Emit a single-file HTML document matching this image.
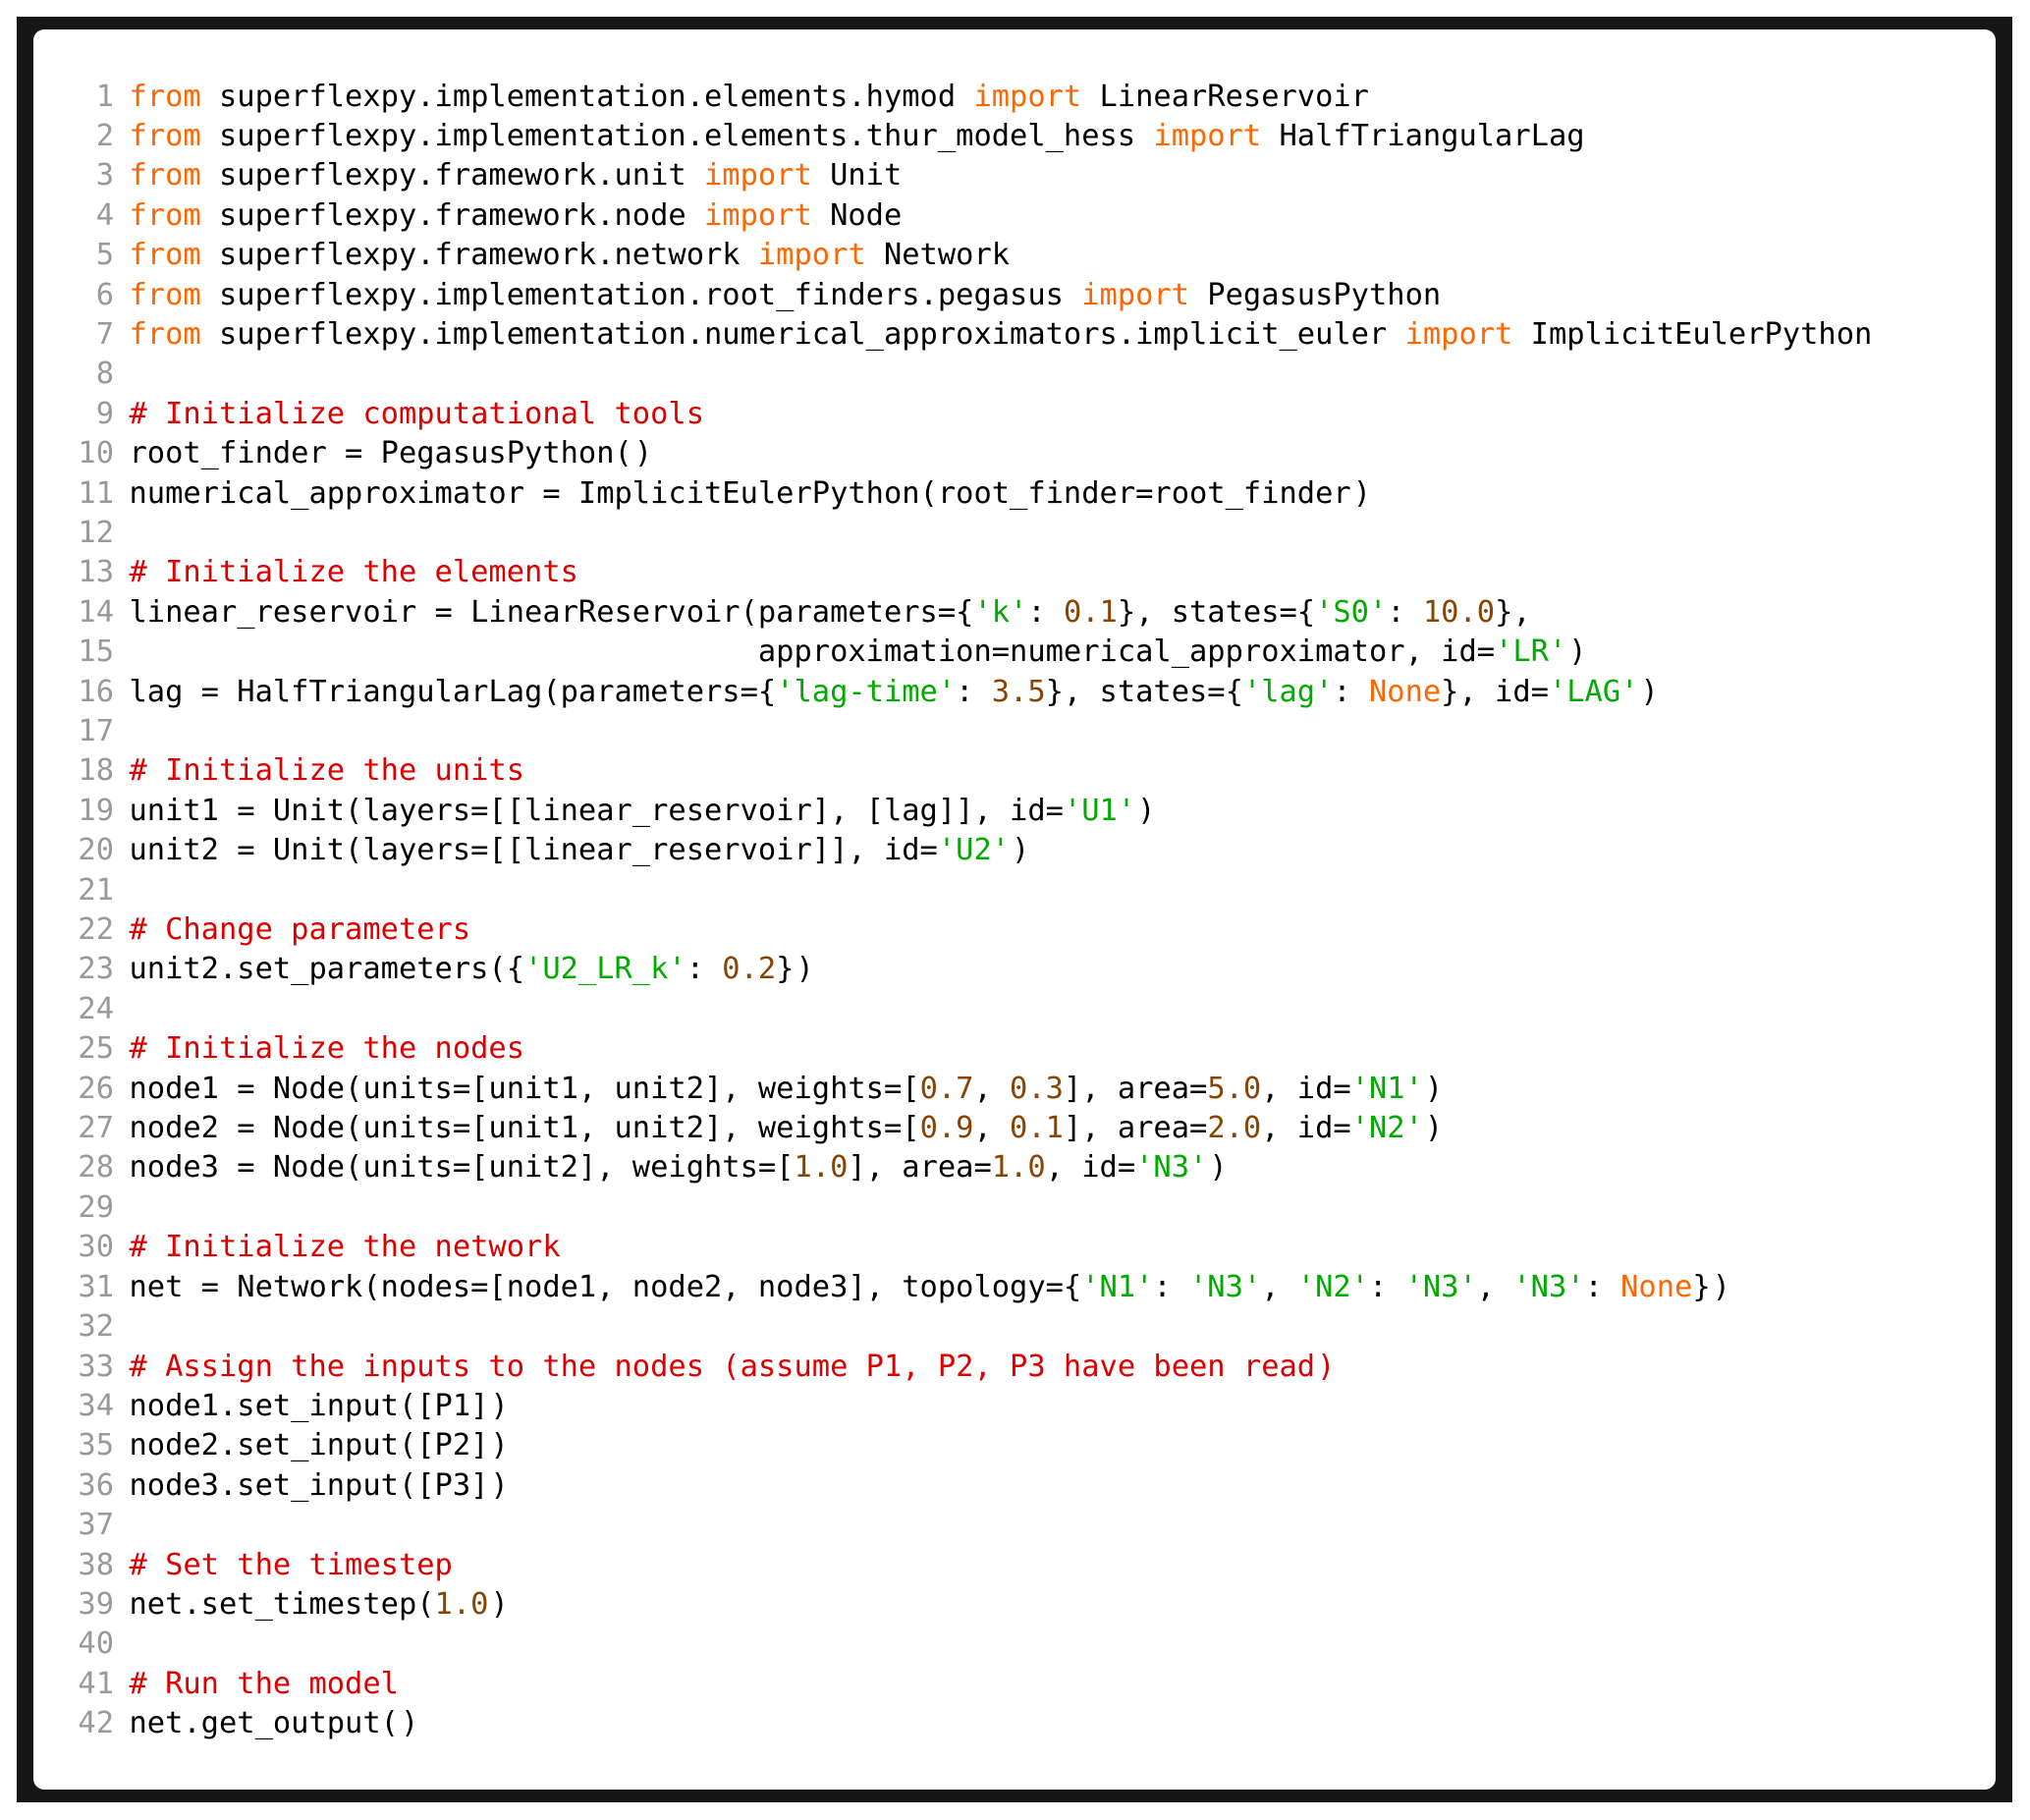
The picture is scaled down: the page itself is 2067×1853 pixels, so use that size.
<!DOCTYPE html>
<html><head><meta charset="utf-8"><style>
html,body{margin:0;padding:0;background:#fff}
body{width:2067px;height:1853px;position:relative;overflow:hidden}
#f{position:absolute;left:17px;top:17px;width:2032px;height:1818px;background:#161616}
#w{position:absolute;left:33.5px;top:29.5px;width:1998.8px;height:1792.8px;background:#fff;border-radius:11px}
pre{position:absolute;margin:0;top:78.5px;font:30.4px/40.41px "DejaVu Sans Mono",monospace;color:#000}
#n{left:60px;width:56px;text-align:right;color:#999}
#c{left:131.5px}
.k{color:#f60}.c{color:#d00}.s{color:#0a0}.d{color:#840}
i{font-style:normal;position:relative;left:2px}
</style></head><body><div id="f"></div><div id="w"></div>
<pre id="n">1
2
3
4
5
6
7
8
9
10
11
12
13
14
15
16
17
18
19
20
21
22
23
24
25
26
27
28
29
30
31
32
33
34
35
36
37
38
39
40
41
42</pre>
<pre id="c"><span class="k">from</span> superflexpy.implementation.elements.hymod <span class="k">import</span> LinearReservoir
<span class="k">from</span> superflexpy.implementation.elements.thur_model_hess <span class="k">import</span> HalfTriangularLag
<span class="k">from</span> superflexpy.framework.unit <span class="k">import</span> Unit
<span class="k">from</span> superflexpy.framework.node <span class="k">import</span> Node
<span class="k">from</span> superflexpy.framework.network <span class="k">import</span> Network
<span class="k">from</span> superflexpy.implementation.root_finders.pegasus <span class="k">import</span> PegasusPython
<span class="k">from</span> superflexpy.implementation.numerical_approximators.implicit_euler <span class="k">import</span> ImplicitEulerPython

<span class="c"># Initialize computational tools</span>
root_finder = PegasusPython(<i>)</i>
numerical_approximator = ImplicitEulerPython(root_finder=root_finder<i>)</i>

<span class="c"># Initialize the elements</span>
linear_reservoir = LinearReservoir(parameters={<span class="s">'k'</span>: <span class="d">0.1</span>}, states={<span class="s">'S0'</span>: <span class="d">10.0</span>},
                                   approximation=numerical_approximator, id=<span class="s">'LR'</span><i>)</i>
lag = HalfTriangularLag(parameters={<span class="s">'lag-time'</span>: <span class="d">3.5</span>}, states={<span class="s">'lag'</span>: <span class="k">None</span>}, id=<span class="s">'LAG'</span><i>)</i>

<span class="c"># Initialize the units</span>
unit1 = Unit(layers=[[linear_reservoir], [lag]], id=<span class="s">'U1'</span><i>)</i>
unit2 = Unit(layers=[[linear_reservoir]], id=<span class="s">'U2'</span><i>)</i>

<span class="c"># Change parameters</span>
unit2.set_parameters({<span class="s">'U2_LR_k'</span>: <span class="d">0.2</span>}<i>)</i>

<span class="c"># Initialize the nodes</span>
node1 = Node(units=[unit1, unit2], weights=[<span class="d">0.7</span>, <span class="d">0.3</span>], area=<span class="d">5.0</span>, id=<span class="s">'N1'</span><i>)</i>
node2 = Node(units=[unit1, unit2], weights=[<span class="d">0.9</span>, <span class="d">0.1</span>], area=<span class="d">2.0</span>, id=<span class="s">'N2'</span><i>)</i>
node3 = Node(units=[unit2], weights=[<span class="d">1.0</span>], area=<span class="d">1.0</span>, id=<span class="s">'N3'</span><i>)</i>

<span class="c"># Initialize the network</span>
net = Network(nodes=[node1, node2, node3], topology={<span class="s">'N1'</span>: <span class="s">'N3'</span>, <span class="s">'N2'</span>: <span class="s">'N3'</span>, <span class="s">'N3'</span>: <span class="k">None</span>}<i>)</i>

<span class="c"># Assign the inputs to the nodes (assume P1, P2, P3 have been read<i>)</i></span>
node1.set_input([P1]<i>)</i>
node2.set_input([P2]<i>)</i>
node3.set_input([P3]<i>)</i>

<span class="c"># Set the timestep</span>
net.set_timestep(<span class="d">1.0</span><i>)</i>

<span class="c"># Run the model</span>
net.get_output(<i>)</i></pre>
</body></html>
